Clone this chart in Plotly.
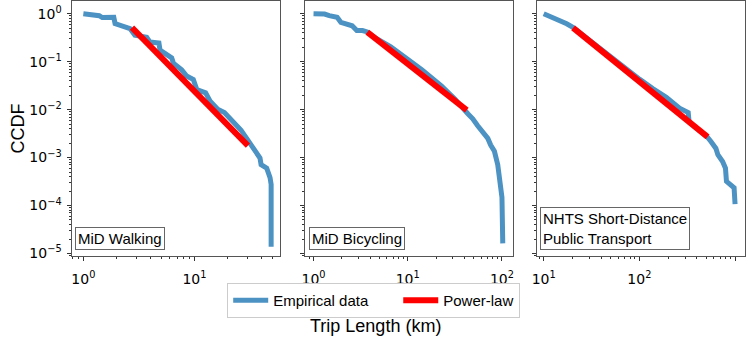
import plotly.graph_objects as go

# ---------------- data ----------------
walk_x = [1.0, 1.20, 1.39, 1.48, 1.88, 1.93, 2.37, 2.63, 2.91, 3.72, 3.98, 4.79, 4.90, 5.62, 6.24, 6.46,
          7.67, 8.51, 9.77, 10.5, 12.6, 13.8, 16.2, 18.6, 20.9, 24.0, 26.3, 29.5, 32.4, 36.3, 38.9,
          39.8, 44.7, 47.9, 49.0, 49.0]
walk_y = [1.0, 0.955, 0.912, 0.832, 0.84, 0.624, 0.537, 0.49, 0.355, 0.324, 0.257, 0.245, 0.174, 0.138,
          0.120, 0.0933, 0.0676, 0.0501, 0.0427, 0.0263, 0.0224, 0.0151, 0.0102, 0.0087, 0.00646,
          0.00468, 0.00372, 0.00251, 0.00182, 0.00135, 0.00098, 0.00071, 0.00060, 0.00038, 0.000275,
          0.0000138]
walk_fit_x = [2.74, 30.3]
walk_fit_y = [0.516, 0.00178]

bike_x = [1.0, 1.31, 1.47, 1.78, 1.95, 2.29, 2.57, 2.88, 3.31, 3.72, 4.68, 6.61, 8.32, 10.2, 14.1,
          22.9, 31.6, 43.7, 49.0, 55.0, 63.1, 70.8, 75.9, 83.2, 90.2, 93.3, 97.7, 100.0, 102.0]
bike_y = [1.0, 0.984, 0.912, 0.841, 0.661, 0.617, 0.562, 0.447, 0.447, 0.417, 0.302, 0.204, 0.148,
          0.110, 0.0676, 0.0309, 0.0166, 0.00813, 0.00646, 0.00468, 0.00339, 0.00251, 0.00182,
          0.00135, 0.00071, 0.000447, 0.000275, 0.000148, 0.0000162]
bike_fit_x = [3.72, 42.3]
bike_fit_y = [0.414, 0.00978]

nhts_x = [10.0, 13.6, 17.4, 20.4, 31.6, 50.1, 70.8, 101, 138, 191, 263, 324, 331, 407, 513, 562,
          631, 661, 741, 794, 813, 977, 1000]
nhts_y = [1.0, 0.776, 0.617, 0.513, 0.257, 0.123, 0.0708, 0.0427, 0.0275, 0.0182, 0.0107, 0.0087,
          0.0055, 0.00398, 0.00269, 0.00214, 0.00155, 0.00115, 0.00083, 0.00060, 0.00032, 0.000234,
          0.000107]
nhts_fit_x = [20.3, 516]
nhts_fit_y = [0.509, 0.00271]

panel_titles = ["MiD Walking", "MiD Bicycling", "NHTS Short-Distance<br>Public Transport"]
legend_names = ["Empirical data", "Power-law"]
y_tick_exps = [-5, -4, -3, -2, -1, 0]
x_tick_exps = [[0, 1], [0, 1, 2], [1, 2, 3]]

# ---------------- styling ----------------
W, H = 747, 337
BLUE = "#4c92c3"
RED = "#ff0000"
FONT = "Liberation Sans, Arial, sans-serif"
TICKFONT = "DejaVu Sans, sans-serif"
FRAME = "#555555"

px_dom = [(68, 277), (302, 512), (536, 746)]
x_ranges = [[-0.098, 1.768], [-0.095, 2.116], [0.927, 3.104]]
y_range = [-5.061, 0.266]
y_dom = [1 - 260 / H, 1.0]

fig = go.Figure()

series = [(walk_x, walk_y, walk_fit_x, walk_fit_y),
          (bike_x, bike_y, bike_fit_x, bike_fit_y),
          (nhts_x, nhts_y, nhts_fit_x, nhts_fit_y)]

def sup(e):
    s = str(e) if e >= 0 else "\u2212" + str(-e)
    return "10<sup>" + s + "</sup>"

def minor_vals(exps_lo, exps_hi):
    return [m * 10 ** e for e in range(exps_lo, exps_hi + 1) for m in range(2, 10)]

PAD = "\u00a0" * 6  # extra spacing after first legend entry

for i, (ex, ey, fx, fy) in enumerate(series):
    xa = "x" if i == 0 else f"x{i+1}"
    ya = "y" if i == 0 else f"y{i+1}"
    fig.add_trace(go.Scatter(x=ex, y=ey, mode="lines", xaxis=xa, yaxis=ya,
                             line=dict(color=BLUE, width=5), name=legend_names[0] + PAD,
                             showlegend=(i == 0), legendrank=1))
    fig.add_trace(go.Scatter(x=fx, y=fy, mode="lines", xaxis=xa, yaxis=ya,
                             line=dict(color=RED, width=6), name=legend_names[1],
                             showlegend=(i == 0), legendrank=2))

    axis_common = dict(type="log", showgrid=False, zeroline=False, showline=True,
                       linecolor=FRAME, linewidth=1, mirror=True, ticks="outside",
                       ticklen=4, tickcolor="#333",
                       tickfont=dict(size=14, color="black", family=TICKFONT))
    xk = "xaxis" if i == 0 else f"xaxis{i+1}"
    yk = "yaxis" if i == 0 else f"yaxis{i+1}"
    xe = x_tick_exps[i]
    fig.update_layout({
        xk: dict(axis_common, domain=[px_dom[i][0] / W, px_dom[i][1] / W], range=x_ranges[i],
                 anchor=ya, tickmode="array", tickvals=[10 ** e for e in xe],
                 ticktext=[sup(e) for e in xe], ticklabelstandoff=6,
                 minor=dict(ticks="outside", ticklen=2, tickcolor="#333", showgrid=False,
                            tickmode="array", tickvals=minor_vals(xe[0] - 1, xe[-1]))),
        yk: dict(axis_common, domain=y_dom, range=y_range, anchor=xa, ticklabelstandoff=3,
                 tickmode="array", tickvals=[10 ** e for e in y_tick_exps],
                 ticktext=[sup(e) for e in y_tick_exps], showticklabels=(i == 0),
                 minor=dict(ticks="outside", ticklen=2, tickcolor="#333", showgrid=False,
                            tickmode="array", tickvals=minor_vals(-6, 0))),
    })

# panel labels
box_pos = [(71, 254), (306, 254), (539, 254)]
for i, t in enumerate(panel_titles):
    fig.add_annotation(x=box_pos[i][0] / W, y=1 - box_pos[i][1] / H, xref="paper", yref="paper",
                       xanchor="left", yanchor="bottom", text=t, showarrow=False, align="left",
                       font=dict(size=15, color="black", family=FONT),
                       bordercolor="#666666", borderwidth=1, borderpad=2, bgcolor="white")

# axis labels
fig.add_annotation(x=373 / W, y=1 - 331 / H, xref="paper", yref="paper", text="Trip Length (km)",
                   showarrow=False, font=dict(size=18, color="black", family=FONT),
                   xanchor="center", yanchor="middle")
fig.add_annotation(x=13 / W, y=1 - 130 / H, xref="paper", yref="paper", text="CCDF", textangle=-90,
                   showarrow=False, font=dict(size=18, color="black", family=FONT),
                   xanchor="center", yanchor="middle")

fig.update_layout(
    width=W, height=H, margin=dict(l=0, r=0, t=0, b=0),
    paper_bgcolor="white", plot_bgcolor="white",
    font=dict(family=FONT, color="black"),
    legend=dict(orientation="h", x=224 / W, y=1 - 287 / H, xanchor="left", yanchor="top",
                bordercolor="#cccccc", borderwidth=1, bgcolor="white",
                font=dict(size=15, color="black", family=FONT), itemwidth=35,
                tracegroupgap=0),
)

fig.write_html("out.html")
